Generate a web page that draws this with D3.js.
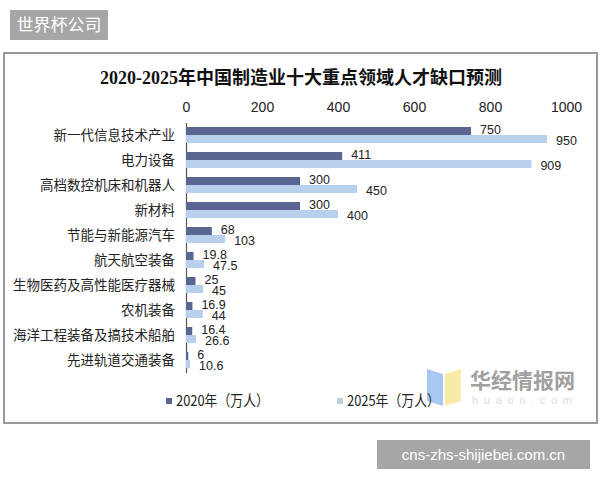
<!DOCTYPE html>
<html>
<head>
<meta charset="utf-8">
<script src="https://cdn.jsdelivr.net/npm/d3@7"></script>
<style>
  body { margin: 0; background: #fff; }
  svg { display: block; }
</style>
</head>
<body>
<div id="chart"></div>
<script>
const categories = ["新一代信息技术产业", "电力设备", "高档数控机床和机器人", "新材料", "节能与新能源汽车",
    "航天航空装备", "生物医药及高性能医疗器械", "农机装备", "海洋工程装备及搞技术船舶", "先进轨道交通装备"]
const values2020 = [750, 411, 300, 300, 68, 19.8, 25, 16.9, 16.4, 6]
const values2025 = [950, 909, 450, 400, 103, 47.5, 45, 44, 26.6, 10.6]
const labels2020 = ["750", "411", "300", "300", "68", "19.8", "25", "16.9", "16.4", "6"]
const labels2025 = ["950", "909", "450", "400", "103", "47.5", "45", "44", "26.6", "10.6"]
const xTicks = [0, 200, 400, 600, 800, 1000]
const seriesNames = ["2020年（万人）", "2025年（万人）"]

const width = 600
const height = 480
const colors = ["#5b6592", "#b8d0ec"]
const cjk = "'Noto Sans CJK SC', 'Noto Sans', sans-serif"
const num = "Arial, 'Liberation Sans', 'Noto Sans CJK SC', sans-serif"

const rows = categories.map((c, i) => ({cat: c, v: [values2020[i], values2025[i]], l: [labels2020[i], labels2025[i]]}))

const svg = d3.select("#chart")
    .append("svg")
    .attr("width", width)
    .attr("height", height)

// badges
svg.append("rect").attr("x", 10).attr("y", 10).attr("width", 98).attr("height", 30).attr("fill", "#a6a6a6")
svg.append("text").attr("x", 59).attr("y", 31).attr("text-anchor", "middle")
    .style("font-family", cjk).style("font-size", "17px").attr("fill", "#fff").text("世界杯公司")

svg.append("rect").attr("x", 377).attr("y", 440).attr("width", 213).attr("height", 29).attr("fill", "#a6a6a6")
svg.append("text").attr("x", 483.5).attr("y", 460).attr("text-anchor", "middle")
    .style("font-family", "'Liberation Sans', Arial, sans-serif").style("font-size", "15px").attr("fill", "#fff")
    .text("cns-zhs-shijiebei.com.cn")

// frame
svg.append("rect").attr("x", 4).attr("y", 53).attr("width", 593).attr("height", 370)
    .attr("fill", "#fff").attr("stroke", "#9a9a9a").attr("stroke-width", 2)

// watermark
const wm = svg.append("g")
wm.append("path").attr("d", "M427,369 L443,374 L443,406 L427,401 Z").attr("fill", "#a9c8f0")
wm.append("path").attr("d", "M445,374 L461,369 L461,401 L445,406 Z").attr("fill", "#faeaa8")
wm.append("text").attr("x", 470).attr("y", 388)
    .style("font-family", cjk).style("font-size", "21px").style("font-weight", "bold")
    .attr("fill", "#a0a0a0").attr("textLength", 105).text("华经情报网")
wm.append("text").attr("x", 472).attr("y", 404)
    .style("font-family", "'Liberation Sans', Arial, sans-serif").style("font-size", "11px")
    .attr("fill", "#dcdcdc").attr("textLength", 100).attr("lengthAdjust", "spacing").text("huaon.com")

// title
svg.append("text").attr("x", 301).attr("y", 84).attr("text-anchor", "middle")
    .style("font-family", "'Liberation Serif', 'Noto Sans CJK SC', serif")
    .style("font-size", "18px").style("font-weight", "bold").attr("fill", "#111")
    .text("2020-2025年中国制造业十大重点领域人才缺口预测")

const x = d3.scaleLinear().domain([0, 1000]).range([186, 566])
const y = d3.scaleBand().domain(categories).range([122.5, 372.5]).paddingInner(0.36).paddingOuter(0.18)
const ys = d3.scaleBand().domain([0, 1]).range([0, y.bandwidth()])

// top axis, labels only
const gx = svg.append("g").attr("transform", "translate(0,112)")
    .call(d3.axisTop(x).tickValues(xTicks).tickSize(0).tickPadding(0).tickFormat(d3.format("d")))
gx.select(".domain").remove()
gx.selectAll("text").style("font-family", num).style("font-size", "14px").attr("fill", "#222")

// left axis line, no labels from axis
const gy = svg.append("g").attr("transform", `translate(${x(0)},0)`)
    .call(d3.axisLeft(y).tickSize(0).tickFormat(""))
gy.select(".domain").attr("stroke", "#555").attr("stroke-width", 1.2)

// category labels
svg.append("g").selectAll("text").data(rows).join("text")
    .attr("x", 175)
    .attr("y", d => y(d.cat) + y.bandwidth() / 2)
    .attr("dy", "0.36em")
    .attr("text-anchor", "end")
    .style("font-family", cjk).style("font-size", "13.5px").attr("fill", "#222")
    .text(d => d.cat)

// bars
const groups = svg.append("g").selectAll("g").data(rows).join("g")
    .attr("transform", d => `translate(0,${y(d.cat)})`)

groups.selectAll("rect").data(d => d.v.map((v, i) => ({v, i}))).join("rect")
    .attr("x", x(0))
    .attr("y", d => ys(d.i))
    .attr("width", d => x(d.v) - x(0))
    .attr("height", ys.bandwidth())
    .attr("fill", d => colors[d.i])

groups.selectAll("text").data(d => d.v.map((v, i) => ({v, i, l: d.l[i]}))).join("text")
    .attr("x", d => x(d.v) + 9)
    .attr("y", d => ys(d.i) + ys.bandwidth() / 2 + (d.i === 0 ? -1.5 : 1.5))
    .attr("dy", "0.35em")
    .style("font-family", num).style("font-size", "12.5px").attr("fill", "#222")
    .text(d => d.l)

// legend
const legend = svg.append("g").selectAll("g").data(seriesNames).join("g")
    .attr("transform", (d, i) => `translate(${[166, 337][i]},398)`)
legend.append("rect").attr("width", 6).attr("height", 6).attr("fill", (d, i) => ["#5b6592", "#c3cedb"][i])
legend.append("text").attr("x", 10).attr("y", 3).attr("dy", "0.36em")
    .style("font-family", cjk).style("font-size", "15px").attr("fill", "#222")
    .attr("textLength", 93).attr("lengthAdjust", "spacingAndGlyphs")
    .text(d => d)
</script>
</body>
</html>
